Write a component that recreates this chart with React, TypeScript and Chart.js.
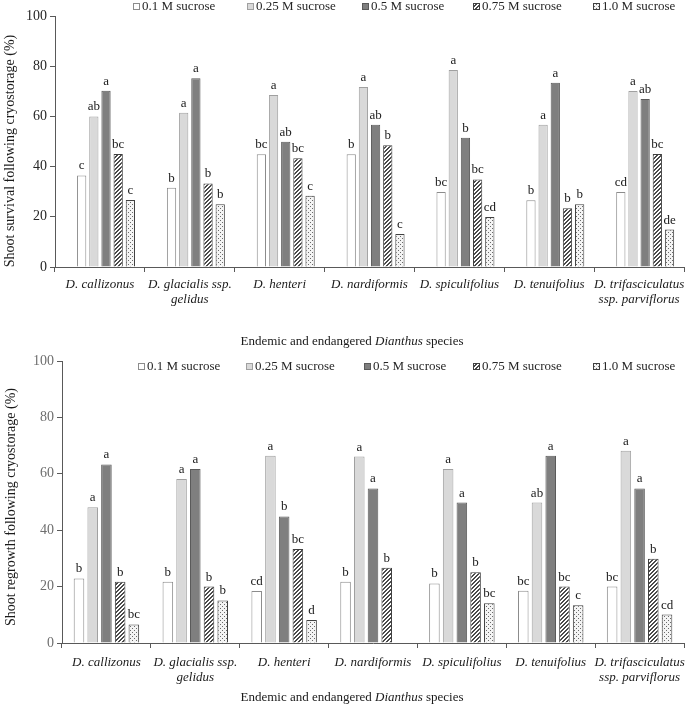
import React, { useEffect, useRef } from "react";
import { Chart, registerables } from "chart.js";
Chart.register(...registerables);

const FONT = "'Liberation Serif', 'Times New Roman', serif";

const categories = [
  ["D. callizonus"],
  ["D. glacialis ssp.", "gelidus"],
  ["D. henteri"],
  ["D. nardiformis"],
  ["D. spiculifolius"],
  ["D. tenuifolius"],
  ["D. trifasciculatus", "ssp. parviflorus"],
];
const seriesNames = ["0.1 M sucrose", "0.25 M sucrose", "0.5 M sucrose", "0.75 M sucrose", "1.0 M sucrose"];
const yTicks = [0, 20, 40, 60, 80, 100];

// Shoot survival following cryostorage (%)
const survival01 = [36.5, 31.6, 44.9, 44.9, 29.9, 26.6, 29.9];
const survival025 = [60.0, 61.5, 68.5, 71.7, 78.5, 56.7, 70.1];
const survival05 = [70.2, 75.2, 49.9, 56.7, 51.5, 73.4, 66.9];
const survival075 = [45.0, 33.3, 43.3, 48.5, 34.9, 23.4, 45.0];
const survival10 = [26.7, 25.0, 28.4, 13.1, 19.9, 25.0, 14.9];
const survivalLetters01 = ["c", "b", "bc", "b", "bc", "b", "cd"];
const survivalLetters025 = ["ab", "a", "a", "a", "a", "a", "a"];
const survivalLetters05 = ["a", "a", "ab", "ab", "b", "a", "ab"];
const survivalLetters075 = ["bc", "b", "bc", "b", "bc", "b", "bc"];
const survivalLetters10 = ["c", "b", "c", "c", "cd", "b", "de"];

// Shoot regrowth following cryostorage (%)
const regrowth01 = [22.9, 21.7, 18.4, 21.7, 21.1, 18.5, 20.0];
const regrowth025 = [48.1, 58.2, 66.4, 66.1, 61.7, 49.8, 68.2];
const regrowth05 = [63.3, 61.7, 44.9, 54.8, 49.8, 66.4, 54.8];
const regrowth075 = [21.7, 20.0, 33.3, 26.7, 25.1, 20.0, 29.9];
const regrowth10 = [6.6, 15.1, 8.2, null, 14.1, 13.4, 10.1];
const regrowthLetters01 = ["b", "b", "cd", "b", "b", "bc", "bc"];
const regrowthLetters025 = ["a", "a", "a", "a", "a", "ab", "a"];
const regrowthLetters05 = ["a", "a", "b", "a", "a", "a", "a"];
const regrowthLetters075 = ["b", "b", "bc", "b", "b", "bc", "b"];
const regrowthLetters10 = ["bc", "b", "d", "", "bc", "c", "cd"];

function makePattern(kind: string): CanvasPattern | string {
  const c = document.createElement("canvas");
  c.width = 4;
  c.height = 4;
  const g = c.getContext("2d")!;
  if (kind === "hatch") {
    g.fillStyle = "#ffffff";
    g.fillRect(0, 0, 4, 4);
    g.fillStyle = "#4a4a4a";
    for (let i = 0; i < 4; i++) {
      g.fillRect(i, 3 - i, 1, 1);
      g.fillRect(i, (4 - i) % 4, 1, 1);
    }
  } else {
    g.fillStyle = "#f4f4f4";
    g.fillRect(0, 0, 4, 4);
    g.fillStyle = "#6a6a6a";
    g.fillRect(0, 0, 1, 1);
    g.fillRect(2, 2, 1, 1);
  }
  const p = g.createPattern(c, "repeat");
  return p || "#888";
}

type Cfg = {
  values: (number | null)[][];
  letters: string[][];
  yTitle: string;
  spacer: boolean;
  canvasH: number;
  plotTop: number;
  plotBottom: number;
  yAxisW: number;
  legendXs: number[];
  legendY: number;
  yTitleX: number;
  yTitleY: number;
  xTitleY: number;
  tickColor: string;
  catPct: number;
  barPct: number;
  xPad: number;
};

function BarChart({ cfg }: { cfg: Cfg }) {
  const ref = useRef<HTMLCanvasElement | null>(null);
  useEffect(() => {
    const canvas = ref.current!;
    const hatch = makePattern("hatch");
    const dots = makePattern("dots");
    const fills: any[] = ["#ffffff", "#d9d9d9", "#7f7f7f", hatch, dots];
    const borders = ["#8c8c8c", "#a0a0a0", "#5a5a5a", "#404040", "#404040"];
    const off = cfg.spacer ? 1 : 0;

    const datasets: any[] = [];
    if (cfg.spacer) {
      datasets.push({
        label: "",
        data: categories.map(() => null),
        backgroundColor: "transparent",
        categoryPercentage: cfg.catPct,
        barPercentage: cfg.barPct,
      });
    }
    cfg.values.forEach((vals, k) => {
      datasets.push({
        label: seriesNames[k],
        data: vals,
        backgroundColor: fills[k],
        borderColor: borders[k],
        borderWidth: 1,
        categoryPercentage: cfg.catPct,
        barPercentage: cfg.barPct,
      });
    });

    const annot = {
      id: "annot",
      afterDatasetsDraw(chart: any) {
        const ctx = chart.ctx;
        ctx.save();
        ctx.fillStyle = "#1a1a1a";
        ctx.font = `13px ${FONT}`;
        ctx.textAlign = "center";
        ctx.textBaseline = "alphabetic";
        cfg.values.forEach((vals, k) => {
          const meta = chart.getDatasetMeta(k + off);
          vals.forEach((v, j) => {
            if (v === null) return;
            const el = meta.data[j];
            const t = cfg.letters[k][j];
            if (!t) return;
            ctx.fillText(t, el.x, el.y - 6);
          });
        });
        ctx.restore();
      },
      afterDraw(chart: any) {
        const ctx = chart.ctx;
        ctx.save();
        // legend
        ctx.font = `13px ${FONT}`;
        ctx.textBaseline = "middle";
        ctx.textAlign = "left";
        const y = cfg.legendY;
        seriesNames.forEach((name, k) => {
          const x = cfg.legendXs[k];
          ctx.fillStyle = fills[k];
          ctx.fillRect(x, y - 3, 7, 7);
          ctx.strokeStyle = borders[k];
          ctx.lineWidth = 1;
          ctx.strokeRect(x + 0.5, y - 2.5, 6, 6);
          ctx.fillStyle = "#262626";
          ctx.fillText(name, x + 9, y + 1);
        });
        // y title
        ctx.save();
        ctx.translate(cfg.yTitleX, cfg.yTitleY);
        ctx.rotate(-Math.PI / 2);
        ctx.textAlign = "center";
        ctx.textBaseline = "middle";
        ctx.fillStyle = "#1a1a1a";
        ctx.font = `14px ${FONT}`;
        ctx.fillText(cfg.yTitle, 0, 0);
        ctx.restore();
        // x title with italic genus name
        const parts: [string, string][] = [
          ["Endemic and endangered ", `13px ${FONT}`],
          ["Dianthus", `italic 13px ${FONT}`],
          [" species", `13px ${FONT}`],
        ];
        let total = 0;
        parts.forEach(([t, f]) => {
          ctx.font = f;
          total += ctx.measureText(t).width;
        });
        let tx = 352 - total / 2;
        ctx.fillStyle = "#1a1a1a";
        ctx.textAlign = "left";
        ctx.textBaseline = "middle";
        parts.forEach(([t, f]) => {
          ctx.font = f;
          ctx.fillText(t, tx, cfg.xTitleY);
          tx += ctx.measureText(t).width;
        });
        ctx.restore();
      },
    };

    const chart = new Chart(canvas, {
      type: "bar",
      data: { labels: categories as any, datasets },
      options: {
        responsive: false,
        maintainAspectRatio: false,
        animation: false,
        layout: { padding: { top: cfg.plotTop, right: 1, left: 0, bottom: 0 } },
        plugins: { legend: { display: false }, tooltip: { enabled: false }, title: { display: false } },
        scales: {
          x: {
            grid: { display: true, drawOnChartArea: false, tickLength: 5, color: "#595959", offset: true },
            border: { display: true, color: "#595959" },
            ticks: {
              font: { family: FONT, size: 13, style: "italic", lineHeight: 1.15 },
              color: "#1a1a1a",
              padding: cfg.xPad,
              maxRotation: 0,
              minRotation: 0,
              autoSkip: false,
            },
            afterFit: (s: any) => {
              s.height = cfg.canvasH - cfg.plotBottom;
              s.paddingLeft = 0;
              s.paddingRight = 0;
            },
          },
          y: {
            min: 0,
            max: 100,
            afterBuildTicks: (s: any) => {
              s.ticks = yTicks.map((v) => ({ value: v }));
            },
            ticks: { font: { family: FONT, size: 14 }, color: cfg.tickColor, padding: 3 },
            grid: { display: true, drawOnChartArea: false, tickLength: 5, color: "#595959" },
            border: { display: true, color: "#595959" },
            afterFit: (s: any) => {
              s.width = cfg.yAxisW;
              s.paddingTop = 0;
              s.paddingBottom = 0;
            },
          },
        },
      } as any,
      plugins: [annot],
    });
    return () => chart.destroy();
  }, [cfg]);
  return <canvas ref={ref} width={685} height={cfg.canvasH} style={{ display: "block" }} />;
}

const topCfg: Cfg = {
  values: [survival01, survival025, survival05, survival075, survival10],
  letters: [survivalLetters01, survivalLetters025, survivalLetters05, survivalLetters075, survivalLetters10],
  yTitle: "Shoot survival following cryostorage (%)",
  spacer: true,
  canvasH: 352,
  plotTop: 16,
  plotBottom: 267,
  yAxisW: 55,
  legendXs: [133, 247, 362, 473, 593],
  legendY: 6,
  yTitleX: 10,
  yTitleY: 151,
  xTitleY: 342,
  tickColor: "#262626",
  catPct: 0.813,
  barPct: 0.76,
  xPad: 5,
};

const bottomCfg: Cfg = {
  values: [regrowth01, regrowth025, regrowth05, regrowth075, regrowth10],
  letters: [regrowthLetters01, regrowthLetters025, regrowthLetters05, regrowthLetters075, regrowthLetters10],
  yTitle: "Shoot regrowth following cryostorage (%)",
  spacer: false,
  canvasH: 353,
  plotTop: 9,
  plotBottom: 291,
  yAxisW: 62,
  legendXs: [138, 246, 364, 473, 593],
  legendY: 14,
  yTitleX: 11,
  yTitleY: 155,
  xTitleY: 346,
  tickColor: "#6e6e6e",
  catPct: 0.772,
  barPct: 0.77,
  xPad: 7,
};

export default function App() {
  return (
    <div style={{ position: "absolute", left: 0, top: 0, width: 685, height: 705, background: "#fff" }}>
      <BarChart cfg={topCfg} />
      <BarChart cfg={bottomCfg} />
    </div>
  );
}
